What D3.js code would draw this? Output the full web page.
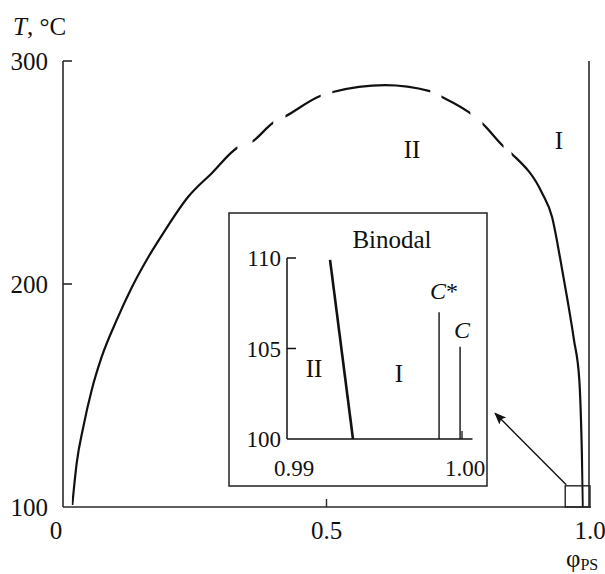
<!DOCTYPE html>
<html>
<head>
<meta charset="utf-8">
<script src="https://cdn.jsdelivr.net/npm/d3@7"></script>
<style>
  html, body { margin: 0; padding: 0; background: #fff; }
  svg { display: block; }
  text { font-family: "Liberation Serif", "DejaVu Serif", serif; fill: #111; }
</style>
</head>
<body>
<svg id="chart" width="605" height="574"></svg>
<script>
// Binodal of the PS system: polymer volume fraction vs temperature
const binodalPhi = [0.0176, 0.026, 0.0385, 0.0545, 0.0734, 0.102, 0.130, 0.162, 0.194, 0.2372, 0.2827, 0.330,
                    0.3605, 0.398, 0.423, 0.488, 0.512, 0.611, 0.696, 0.719, 0.772, 0.797, 0.835,
                    0.852, 0.909, 0.928, 0.943, 0.9573, 0.9696, 0.9797, 0.9843, 0.9867];
const binodalT   = [100.9, 119.7, 135.9, 152.5, 167.3, 183.9, 198.2, 212.1, 224.2, 239.0, 249.8, 261.0,
                    264.1, 272.2, 275.3, 284.3, 286.1, 289.2, 286.5, 283.9, 276.7, 271.7, 261.9,
                    258.3, 240.8, 230.0, 212.0, 192.8, 174.9, 157.0, 126.9, 100.0];
// visible stretches of the curve (the upper part is drawn broken)
const drawnStart = [0.0176, 0.3605, 0.423, 0.512, 0.719, 0.797, 0.852];
const drawnEnd   = [0.330, 0.398, 0.488, 0.696, 0.772, 0.835, 0.987];

const xTicks = [0, 0.5, 1.0];
const xTickLabels = ["0", "0.5", "1.0"];
const yTicks = [100, 200, 300];

// critical composition line and zoom box near phi = 1
const critPhiMain = 1.0;
const boxPhi = [0.953, 1.0];
const boxT = [100, 109.5];
const arrowHeadPhi = 0.82, arrowHeadT = 142;

// inset: phi 0.99 .. 1.00, T 100 .. 110
const insetXTicks = [0.99, 1.00];
const insetXLabels = ["0.99", "1.00"];
const insetYTicks = [100, 105, 110];
const insetBinodalPhi = [0.99246, 0.99377];
const insetBinodalT = [109.9, 100];
const critNames = ["C*", "C"];
const critPhi = [0.99869, 0.99989];
const critTop = [107.0, 105.1];

const svg = d3.select("#chart");
const x = d3.scaleLinear().domain([0, 1]).range([63, 590]);
const y = d3.scaleLinear().domain([100, 300]).range([507, 61]);

const axisColor = "#2a2a2a";

// axes
svg.append("line").attr("x1", x(0)).attr("x2", x(1) + 1).attr("y1", y(100)).attr("y2", y(100))
  .attr("stroke", axisColor).attr("stroke-width", 1.6);
svg.append("line").attr("x1", x(0)).attr("x2", x(0)).attr("y1", y(100)).attr("y2", y(300))
  .attr("stroke", axisColor).attr("stroke-width", 1.6);
yTicks.filter(t => t > 100).forEach(t => {
  svg.append("line").attr("x1", x(0)).attr("x2", x(0) + 9).attr("y1", y(t)).attr("y2", y(t))
    .attr("stroke", axisColor).attr("stroke-width", 1.6);
});
xTicks.filter(t => t > 0 && t < 1).forEach(t => {
  svg.append("line").attr("x1", x(t)).attr("x2", x(t)).attr("y1", y(100)).attr("y2", y(100) - 8)
    .attr("stroke", axisColor).attr("stroke-width", 1.4);
});
yTicks.forEach(t => {
  svg.append("text").attr("x", 48).attr("y", y(t)).attr("dy", "0.35em")
    .attr("text-anchor", "end").attr("font-size", 25).text(t);
});
xTicks.forEach((t, i) => {
  const dx = i === 0 ? -7 : 0;
  svg.append("text").attr("x", x(t) + dx).attr("y", 539)
    .attr("text-anchor", "middle").attr("font-size", 25).text(xTickLabels[i]);
});

// axis titles
const yt = svg.append("text").attr("x", 13).attr("y", 35).attr("font-size", 25);
yt.append("tspan").attr("font-style", "italic").text("T");
yt.append("tspan").text(", °C");
const xt = svg.append("text").attr("x", 566).attr("y", 567).attr("font-size", 25);
xt.append("tspan").text("φ");
xt.append("tspan").attr("font-size", 16).attr("dy", 3).text("PS");

// binodal curve, clipped to its visible stretches
const clip = svg.append("clipPath").attr("id", "binodalClip");
drawnStart.forEach((s, i) => {
  clip.append("rect").attr("x", x(s) - 0.5).attr("y", 0)
    .attr("width", x(drawnEnd[i]) - x(s) + 1).attr("height", 574);
});
const pts = binodalPhi.map((p, i) => [p, binodalT[i]]);
const line = d3.line().x(d => x(d[0])).y(d => y(d[1])).curve(d3.curveMonotoneX);
svg.append("path").attr("d", line(pts)).attr("fill", "none")
  .attr("stroke", "#111").attr("stroke-width", 2.2).attr("clip-path", "url(#binodalClip)");

// critical composition line
svg.append("line").attr("x1", x(critPhiMain) - 1).attr("x2", x(critPhiMain) - 1)
  .attr("y1", y(100)).attr("y2", y(300))
  .attr("stroke", "#555").attr("stroke-width", 2);

// zoom box
svg.append("rect").attr("x", x(boxPhi[0])).attr("y", y(boxT[1]))
  .attr("width", x(boxPhi[1]) - x(boxPhi[0])).attr("height", y(boxT[0]) - y(boxT[1]))
  .attr("fill", "none").attr("stroke", "#222").attr("stroke-width", 1.4);

// arrow from box to inset
svg.append("defs").append("marker").attr("id", "arrow")
  .attr("viewBox", "0 0 10 10").attr("refX", 9).attr("refY", 5)
  .attr("markerWidth", 12).attr("markerHeight", 12).attr("markerUnits", "userSpaceOnUse")
  .attr("orient", "auto")
  .append("path").attr("d", "M0,1 L10,5 L0,9 L2,5 Z").attr("fill", "#111");
svg.append("line").attr("x1", x(boxPhi[0]) + 1).attr("y1", y(boxT[1]) - 1)
  .attr("x2", x(arrowHeadPhi)).attr("y2", y(arrowHeadT))
  .attr("stroke", "#111").attr("stroke-width", 1.4).attr("marker-end", "url(#arrow)");

// region labels
svg.append("text").attr("x", 412).attr("y", 158).attr("text-anchor", "middle").attr("font-size", 25).text("II");
svg.append("text").attr("x", 559).attr("y", 149).attr("text-anchor", "middle").attr("font-size", 25).text("I");

// inset
svg.append("rect").attr("x", 229).attr("y", 213).attr("width", 258).attr("height", 273)
  .attr("fill", "#fff").attr("stroke", "#222").attr("stroke-width", 1.5);
const xi = d3.scaleLinear().domain([0.99, 1.00]).range([287, 462]);
const yi = d3.scaleLinear().domain([100, 110]).range([439, 258]);
svg.append("line").attr("x1", xi(0.99)).attr("x2", xi(1.0006)).attr("y1", yi(100)).attr("y2", yi(100))
  .attr("stroke", "#111").attr("stroke-width", 1.5);
svg.append("line").attr("x1", xi(0.99)).attr("x2", xi(0.99)).attr("y1", yi(100)).attr("y2", yi(110))
  .attr("stroke", "#111").attr("stroke-width", 1.5);
insetYTicks.filter(t => t > 100).forEach(t => {
  svg.append("line").attr("x1", xi(0.99)).attr("x2", xi(0.99) + 9).attr("y1", yi(t)).attr("y2", yi(t))
    .attr("stroke", "#111").attr("stroke-width", 1.5);
});
svg.append("line").attr("x1", xi(1.0)).attr("x2", xi(1.0)).attr("y1", yi(100)).attr("y2", yi(100) - 8)
  .attr("stroke", "#111").attr("stroke-width", 1.3);
insetYTicks.forEach(t => {
  svg.append("text").attr("x", 281).attr("y", yi(t)).attr("dy", "0.35em")
    .attr("text-anchor", "end").attr("font-size", 23).text(t);
});
insetXTicks.forEach((t, i) => {
  svg.append("text").attr("x", xi(t) + (i === 0 ? 7 : 3)).attr("y", 476)
    .attr("text-anchor", "middle").attr("font-size", 23).text(insetXLabels[i]);
});
svg.append("text").attr("x", 392).attr("y", 248).attr("text-anchor", "middle").attr("font-size", 25).text("Binodal");

svg.append("line")
  .attr("x1", xi(insetBinodalPhi[0])).attr("y1", yi(insetBinodalT[0]))
  .attr("x2", xi(insetBinodalPhi[1])).attr("y2", yi(insetBinodalT[1]))
  .attr("stroke", "#111").attr("stroke-width", 2.6);

critPhi.forEach((p, i) => {
  svg.append("line").attr("x1", xi(p)).attr("x2", xi(p)).attr("y1", yi(100)).attr("y2", yi(critTop[i]))
    .attr("stroke", "#111").attr("stroke-width", 1.4);
});
const cs = svg.append("text").attr("x", xi(critPhi[0]) - 9).attr("y", 299).attr("font-size", 24);
cs.append("tspan").attr("font-style", "italic").text("C");
cs.append("tspan").text("*");
svg.append("text").attr("x", xi(critPhi[1]) - 6).attr("y", 338).attr("font-size", 24)
  .attr("font-style", "italic").text("C");

svg.append("text").attr("x", 314).attr("y", 377).attr("text-anchor", "middle").attr("font-size", 25).text("II");
svg.append("text").attr("x", 399).attr("y", 382).attr("text-anchor", "middle").attr("font-size", 25).text("I");
</script>
</body>
</html>
